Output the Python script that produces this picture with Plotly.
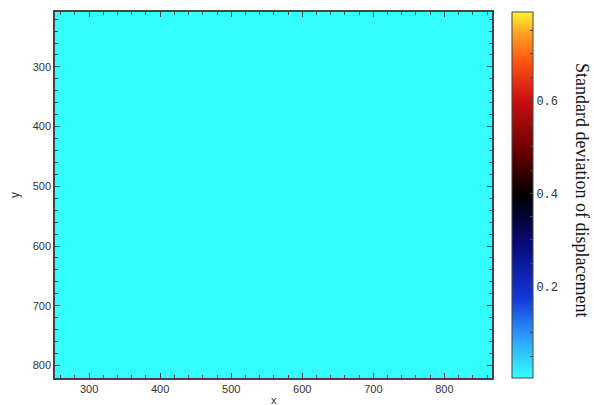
import plotly.graph_objects as go

# Grid coordinates (pixel-space of the analysed image)
x_vals = [260, 310, 360, 410, 460, 510, 560, 610, 660, 710, 760, 810, 860]
y_vals = [215, 265, 315, 365, 415, 465, 515, 565, 615, 665, 715, 765, 815]

# Standard deviation of displacement (nearly uniform, very small)
z_vals = [
    [0.005, 0.005, 0.005, 0.005, 0.005, 0.005, 0.005, 0.005, 0.005, 0.005, 0.005, 0.005, 0.005],
    [0.005, 0.005, 0.005, 0.005, 0.005, 0.005, 0.005, 0.005, 0.005, 0.005, 0.005, 0.005, 0.005],
    [0.005, 0.005, 0.005, 0.005, 0.005, 0.005, 0.005, 0.005, 0.005, 0.005, 0.005, 0.005, 0.005],
    [0.005, 0.005, 0.005, 0.005, 0.005, 0.005, 0.005, 0.005, 0.005, 0.005, 0.005, 0.005, 0.005],
    [0.005, 0.005, 0.005, 0.005, 0.005, 0.005, 0.005, 0.005, 0.005, 0.005, 0.005, 0.005, 0.005],
    [0.005, 0.005, 0.005, 0.005, 0.005, 0.005, 0.005, 0.005, 0.005, 0.005, 0.005, 0.005, 0.005],
    [0.005, 0.006, 0.005, 0.005, 0.005, 0.005, 0.005, 0.005, 0.005, 0.005, 0.005, 0.005, 0.005],
    [0.005, 0.005, 0.005, 0.005, 0.005, 0.005, 0.005, 0.005, 0.005, 0.005, 0.005, 0.005, 0.005],
    [0.005, 0.005, 0.005, 0.005, 0.005, 0.005, 0.005, 0.005, 0.005, 0.005, 0.005, 0.005, 0.005],
    [0.005, 0.005, 0.005, 0.005, 0.005, 0.005, 0.005, 0.005, 0.005, 0.005, 0.005, 0.005, 0.005],
    [0.005, 0.005, 0.005, 0.005, 0.005, 0.005, 0.005, 0.005, 0.005, 0.005, 0.005, 0.005, 0.005],
    [0.005, 0.005, 0.005, 0.005, 0.005, 0.005, 0.005, 0.005, 0.005, 0.005, 0.005, 0.005, 0.005],
    [0.005, 0.005, 0.005, 0.005, 0.005, 0.005, 0.005, 0.005, 0.005, 0.005, 0.005, 0.005, 0.005],
]

cbar_min = 0.003
cbar_max = 0.79
cbar_tickvals = [0.05, 0.1, 0.15, 0.2, 0.25, 0.3, 0.35, 0.4, 0.45, 0.5, 0.55, 0.6, 0.65, 0.7, 0.75]
cbar_ticktext = ["", "", "", "0.2", "", "", "", "0.4", "", "", "", "0.6", "", "", ""]

colorscale = [
    [0.00, "#33FFFF"],
    [0.10, "#2FA8FF"],
    [0.22, "#1238DA"],
    [0.36, "#0A0A80"],
    [0.50, "#000000"],
    [0.62, "#6A0000"],
    [0.76, "#CC1010"],
    [0.86, "#FF5010"],
    [0.94, "#FFA020"],
    [1.00, "#FFF530"],
]

axis_col = "#444444"
tick_font = dict(family="Liberation Sans, Arial, sans-serif", size=11, color="#333333")

fig = go.Figure(
    go.Heatmap(
        x=x_vals,
        y=y_vals,
        z=z_vals,
        zmin=cbar_min,
        zmax=cbar_max,
        colorscale=colorscale,
        colorbar=dict(
            x=1.0457,
            xanchor="left",
            y=0.5,
            yanchor="middle",
            len=1.0,
            lenmode="fraction",
            thickness=21,
            thicknessmode="pixels",
            outlinewidth=1,
            outlinecolor=axis_col,
            ticks="inside",
            ticklen=3,
            tickcolor=axis_col,
            tickvals=cbar_tickvals,
            ticktext=cbar_ticktext,
            tickfont=dict(family="Liberation Mono, Courier New, monospace", size=12, color="#333333"),
            xpad=0,
            ypad=0,
        ),
    )
)

fig.update_xaxes(
    range=[252, 867],
    dtick=100,
    tick0=0,
    ticks="inside",
    ticklen=5,
    tickwidth=1,
    tickcolor=axis_col,
    minor=dict(dtick=20, ticks="inside", ticklen=3, tickcolor=axis_col),
    showline=True,
    linecolor=axis_col,
    linewidth=1.5,
    mirror="ticks",
    showgrid=False,
    zeroline=False,
    tickfont=tick_font,
)
fig.update_yaxes(
    range=[821, 208],
    dtick=100,
    tick0=0,
    ticks="inside",
    ticklen=5,
    tickwidth=1,
    tickcolor=axis_col,
    minor=dict(dtick=20, ticks="inside", ticklen=3, tickcolor=axis_col),
    showline=True,
    linecolor=axis_col,
    linewidth=1.5,
    mirror="ticks",
    showgrid=False,
    zeroline=False,
    tickfont=tick_font,
)

fig.update_layout(
    width=594,
    height=405,
    margin=dict(l=55, r=102, t=10, b=27),
    paper_bgcolor="white",
    plot_bgcolor="white",
    showlegend=False,
    annotations=[
        dict(
            text="y",
            xref="paper",
            yref="paper",
            x=-40 / 437,
            y=0.5,
            xanchor="center",
            yanchor="middle",
            textangle=-90,
            showarrow=False,
            font=dict(family="Liberation Sans, Arial, sans-serif", size=12, color="#333333"),
        ),
        dict(
            text="x",
            xref="paper",
            yref="paper",
            x=0.5,
            y=-1.0 - 0.0 + 1.0 - 14 / 368,
            xanchor="center",
            yanchor="top",
            showarrow=False,
            font=dict(family="Liberation Sans, Arial, sans-serif", size=11, color="#333333"),
        ),
        dict(
            text="Standard deviation of displacement",
            xref="paper",
            yref="paper",
            x=(582 - 55) / 437,
            y=(378 - 189) / 368,
            xanchor="center",
            yanchor="middle",
            textangle=90,
            showarrow=False,
            font=dict(family="Liberation Serif, Times New Roman, serif", size=18, color="#111111"),
        ),
    ],
)

fig.write_html("out.html")
